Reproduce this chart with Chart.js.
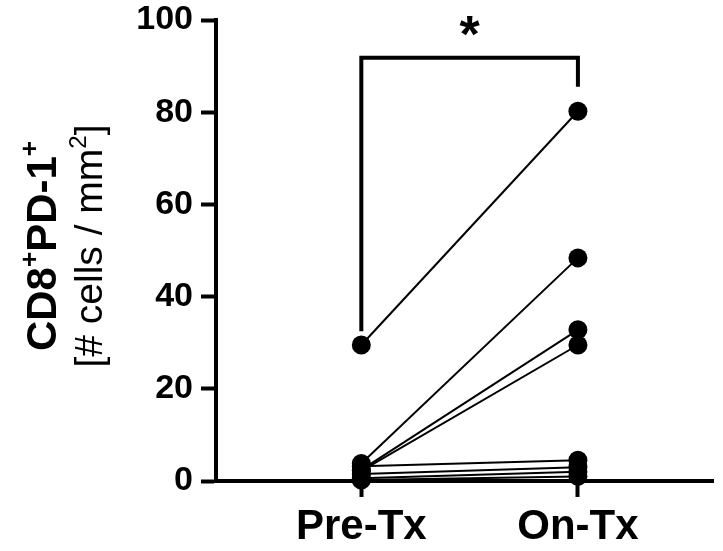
<!DOCTYPE html>
<html>
<head>
<meta charset="utf-8">
<script src="https://cdn.jsdelivr.net/npm/chart.js@4"></script>
<style>
  html, body { margin: 0; padding: 0; background: #fff; }
  #wrap { width: 723px; height: 551px; }
</style>
</head>
<body>
<div id="wrap"><canvas id="chart" width="723" height="551"></canvas></div>
<script>
// groups on the x axis
let groups = ['Pre-Tx', 'On-Tx'];
let groupX = [0, 1];

// paired values per patient
let preTx = [29.5, 3.8, 2.4, 2.2, 3.2, 1.5, 0.6, 0.2];
let onTx = [80.2, 48.4, 32.8, 29.5, 4.5, 3.0, 2.0, 1.0];

let yTicks = [0, 20, 40, 60, 80, 100];

// significance bracket
let bracketX = [0, 0, 1, 1];
let bracketY = [32.5, 91.8, 91.8, 85.5];
let starLabel = '*';
let starValue = 97;

let FONT = '"Liberation Sans", Arial, sans-serif';

let datasets = [];
for (let i = 0; i < preTx.length; i++) {
    datasets.push({
        data: [{ x: groupX[0], y: preTx[i] }, { x: groupX[1], y: onTx[i] }],
        showLine: true,
        borderColor: '#000',
        borderWidth: 2,
        pointRadius: 9.5,
        pointBackgroundColor: '#000',
        pointBorderColor: '#000',
        pointBorderWidth: 0,
        clip: false
    });
}
datasets.push({
    data: bracketX.map(function(x, i) { return { x: x, y: bracketY[i] }; }),
    showLine: true,
    borderColor: '#000',
    borderWidth: 4,
    borderCapStyle: 'butt',
    borderJoinStyle: 'miter',
    pointRadius: 0,
    clip: false
});

// draws the star and the two-line y title
const extras = {
    id: 'extras',
    afterDraw(chart) {
        let ctx = chart.ctx;
        let xs = chart.scales.x;
        let ys = chart.scales.y;

        ctx.save();
        ctx.fillStyle = '#000';
        ctx.font = 'bold 52px ' + FONT;
        ctx.textAlign = 'center';
        ctx.textBaseline = 'middle';
        ctx.fillText(starLabel, xs.getPixelForValue(0.5), ys.getPixelForValue(starValue) + 4);
        ctx.restore();

        let cy = 246;
        drawRotated(ctx, 56, cy, [
            ['CD8', false], ['+', true], ['PD-1', false], ['+', true]
        ], 'bold', 42);
        drawRotated(ctx, 102, cy, [
            ['[# cells / mm', false], ['2', true], [']', false]
        ], 'normal', 39);
    }
};

function drawRotated(ctx, x, y, parts, weight, size) {
    ctx.save();
    ctx.translate(x, y);
    ctx.rotate(-Math.PI / 2);
    ctx.fillStyle = '#000';
    ctx.textBaseline = 'alphabetic';
    ctx.textAlign = 'left';
    let total = 0;
    parts.forEach(function(p) {
        ctx.font = weight + ' ' + (p[1] ? size * 0.62 : size) + 'px ' + FONT;
        total += ctx.measureText(p[0]).width;
    });
    let pos = -total / 2;
    parts.forEach(function(p) {
        ctx.font = weight + ' ' + (p[1] ? size * 0.62 : size) + 'px ' + FONT;
        ctx.fillText(p[0], pos, p[1] ? -size * 0.42 : 0);
        pos += ctx.measureText(p[0]).width;
    });
    ctx.restore();
}

new Chart(document.getElementById('chart'), {
    type: 'scatter',
    data: { datasets: datasets },
    options: {
        responsive: false,
        animation: false,
        layout: { padding: { top: 0, right: 0, left: 0, bottom: 0 } },
        plugins: { legend: { display: false }, tooltip: { enabled: false } },
        scales: {
            x: {
                type: 'linear',
                min: -0.671,
                max: 1.626,
                afterBuildTicks: function(scale) {
                    scale.ticks = groupX.map(function(v) { return { value: v }; });
                },
                afterFit: function(scale) { scale.height = 70; },
                ticks: {
                    color: '#000',
                    padding: 5,
                    font: { family: FONT, size: 42, weight: 'bold' },
                    callback: function(v) { return groups[groupX.indexOf(v)]; }
                },
                grid: { drawOnChartArea: false, drawTicks: true, tickLength: 16, tickWidth: 4, color: '#000' },
                border: { display: true, width: 4, color: '#000' }
            },
            y: {
                min: 0,
                max: 100,
                afterBuildTicks: function(scale) {
                    scale.ticks = yTicks.map(function(v) { return { value: v }; });
                },
                afterFit: function(scale) {
                    scale.width = 216;
                    scale.paddingTop = 20;
                },
                ticks: {
                    color: '#000',
                    padding: 8,
                    font: { family: FONT, size: 34, weight: 'bold', lineHeight: 0.8 }
                },
                grid: { drawOnChartArea: false, drawTicks: true, tickLength: 15, tickWidth: 4, color: '#000' },
                border: { display: true, width: 4, color: '#000' }
            }
        }
    },
    plugins: [extras]
});
</script>
</body>
</html>
